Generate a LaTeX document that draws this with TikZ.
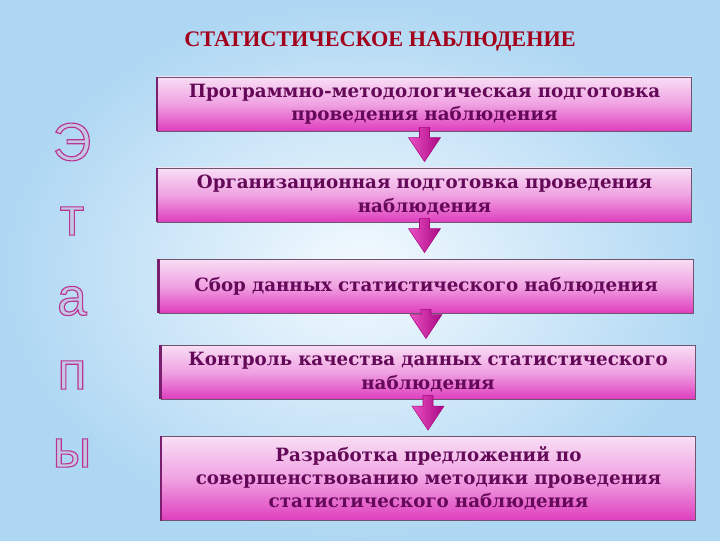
\documentclass[tikz,border=0pt]{standalone}
\usepackage{fontspec}
\setmainfont{DejaVu Serif}
\newfontfamily\titlefont{Liberation Serif}
\newfontfamily\letterfont{Liberation Sans}
\usetikzlibrary{calc}
\definecolor{bgin}{HTML}{F4FAFE}
\definecolor{bgout}{HTML}{AED7F3}
\definecolor{boxtop}{HTML}{F8DEF5}
\definecolor{boxmid}{HTML}{F0A2E2}
\definecolor{boxbot}{HTML}{DE3EBE}
\definecolor{boxedge}{HTML}{6E566E}
\definecolor{boxbar}{HTML}{7A1E6E}
\definecolor{boxtext}{HTML}{640858}
\definecolor{titlered}{HTML}{A3001C}
\definecolor{arrdark}{HTML}{A80882}
\definecolor{arrlight}{HTML}{EC50C4}
\definecolor{letterfill}{HTML}{C4C8E4}
% hollow letter: fill plus magenta stroke
\newcommand\hollow[1]{\special{pdf:literal 2 Tr 0.8 w 0.72 0.2 0.58 RG}#1\special{pdf:literal 0 Tr}}
\begin{document}
\begin{tikzpicture}[x=0.025cm, y=-0.025cm,
  stagebox/.style={draw=boxedge, line width=0.6pt,
    top color=boxtop, bottom color=boxbot, middle color=boxmid,
    minimum width=13.35cm, minimum height=1.35cm, text width=12.8cm,
    align=center, inner sep=0pt, text=boxtext,
    font=\bfseries\fontsize{13}{16.5}\selectfont},
  bar/.style={boxbar, line width=1.6pt},
  ttl/.style={text=titlered, font=\titlefont\bfseries\fontsize{15.8}{18}\selectfont},
  letter/.style={text=letterfill, font=\letterfont\fontsize{38}{40}\selectfont},
  blockarr/.style={draw=arrdark, line width=0.4pt, left color=arrlight, right color=arrdark}
]
\useasboundingbox (0,0) rectangle (720,540);
% background
\shade[inner color=bgin, outer color=bgout] (0,0) rectangle (720,540);
% title
\node[ttl] (title) at (380,42) {СТАТИСТИЧЕСКОЕ НАБЛЮДЕНИЕ};
% left column: word split into letters
\foreach \ch/\y [count=\i] in {Э/142, т/221, а/301, п/375, ы/453}
  \node[letter] (l\i) at (72,\y) {\hollow{\ch}};
% stages
\node[stagebox] (b1) at (424.5,104) {Программно-методологическая подготовка\\ проведения наблюдения};
\node[stagebox] (b2) at (424.5,195) {Организационная подготовка проведения\\ наблюдения};
\node[stagebox] (b3) at (426,286) {Сбор данных статистического наблюдения};
\node[stagebox] (b4) at (428,372) {Контроль качества данных статистического\\ наблюдения};
\node[stagebox, minimum height=2.1cm] (b5) at (428.5,478.5) {Разработка предложений по\\ совершенствованию методики проведения\\ статистического наблюдения};
\foreach \b in {b1,b2,b3,b4,b5}
  \draw[bar] (\b.north west) -- (\b.south west);
% arrows between stages
\foreach \a/\b in {b1/b2, b2/b3, b3/b4, b4/b5} {
  \coordinate (tip) at ($(\a.south |- \b.north)+(0,-6)$);
  \path[blockarr] ($(\a.south)+(-5,-4)$) -- ($(\a.south)+(5,-4)$)
    -- ($(tip)+(5,-24)$) -- ($(tip)+(16,-24)$) -- (tip)
    -- ($(tip)+(-16,-24)$) -- ($(tip)+(-5,-24)$) -- cycle;
}
\end{tikzpicture}
\end{document}
